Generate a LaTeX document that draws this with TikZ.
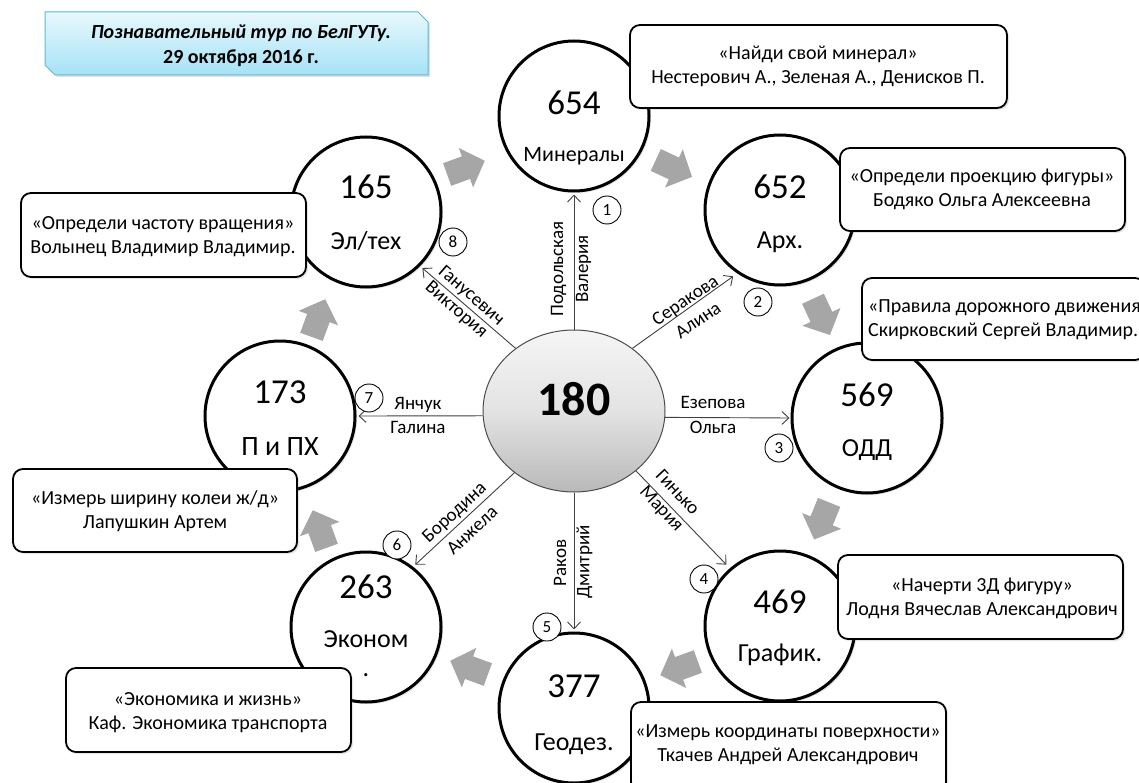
\documentclass[tikz,border=0pt]{standalone}
\usepackage{fontspec}
\setmainfont{Carlito}
\usetikzlibrary{shapes.geometric,arrows.meta,shadows}
\definecolor{garrowc}{HTML}{A6A6A6}
\definecolor{tborder}{HTML}{5DB9D8}
\definecolor{ttop}{HTML}{E8F8FD}
\definecolor{tbot}{HTML}{A6E2F6}
\definecolor{conncol}{HTML}{404040}
\newcommand\garrow[3]{\fill[garrowc,shift={(#1,#2)},rotate=#3] (-19,-12) -- (1,-12) -- (1,-21) -- (21,0) -- (1,21) -- (1,12) -- (-19,12) -- cycle;}
\begin{document}
\begin{tikzpicture}[x=1pt,y=-1pt,
  bigc/.style={circle,draw=black,line width=3pt,fill=white,minimum size=150pt,inner sep=0pt,
     drop shadow={shadow xshift=2pt,shadow yshift=-2pt,opacity=0.2}},
  num/.style={font=\fontsize{35}{40}\selectfont,inner sep=0pt,text depth=0pt},
  nm/.style={font=\fontsize{26}{30}\selectfont,inner sep=0pt,text depth=0pt},
  box/.style={draw=black,line width=1.8pt,rounded corners=10pt,fill=white,inner sep=0pt,
     drop shadow={shadow xshift=2pt,shadow yshift=-2pt,opacity=0.2}},
  btxt/.style={font=\fontsize{20}{24}\selectfont,align=center,inner sep=0pt},
  conn/.style={draw=conncol,line width=0.9pt,-{Straight Barb[length=7pt,width=13pt,line width=0.9pt]}},
  elab/.style={font=\fontsize{19}{22}\selectfont,inner sep=0pt,text depth=0pt},
  badge/.style={circle,draw=black,line width=0.9pt,fill=white,minimum size=28pt,inner sep=0pt,font=\fontsize{17}{20}\selectfont},
]
\useasboundingbox (0,0) rectangle (1139,783);
\fill[white] (0,0) rectangle (1139,783);

% gray flow arrows
\garrow{465}{168}{20}
\garrow{673}{168}{-25}
\garrow{821}{316}{-65}
\garrow{822}{520}{-112}
\garrow{680}{668}{-160}
\garrow{470}{668}{160}
\garrow{320}{530}{110}
\garrow{318}{319}{70}

% title
\path[draw=tborder,line width=1pt,top color=ttop,bottom color=tbot,
  drop shadow={shadow xshift=2pt,shadow yshift=-2pt,opacity=0.25}]
  (45,12) -- (418,12) -- (428,22) -- (428,75) -- (55,75) -- (45,65) -- cycle;
\node[font=\fontsize{20}{25}\selectfont\bfseries,align=center,inner sep=0pt] (title) at (241,45.5)
  {\textit{Познавательный тур по БелГУТу.}\\29 октября 2016 г.};

% center
\node[ellipse,draw=black!70,line width=1pt,minimum width=182pt,minimum height=162pt,
  top color=gray!8,bottom color=gray!55,middle color=gray!22] (c0) at (574,411) {};
\node[font=\fontsize{48}{54}\selectfont\bfseries,inner sep=0pt,text depth=0pt] (n0) at (574,399) {180};

% outer circles
\node[bigc] (c1) at (574,116) {};
\node[num] (c1n) at (574,103) {654};
\node[nm,font=\fontsize{22}{26}\selectfont] (c1t) at (574,154) {Минералы};

\node[bigc] (c2) at (780,210) {};
\node[num] (c2n) at (780,187) {652};
\node[nm] (c2t) at (780,240) {Арх.};

\node[bigc] (c3) at (867,418) {};
\node[num] (c3n) at (867,395) {569};
\node[nm] (c3t) at (867,448) {ОДД};

\node[bigc] (c4) at (780,626) {};
\node[num] (c4n) at (780,602) {469};
\node[nm] (c4t) at (780,653) {График.};

\node[bigc] (c5) at (574,708) {};
\node[num] (c5n) at (574,686) {377};
\node[nm] (c5t) at (574,742) {Геодез.};

\node[bigc] (c6) at (366,627) {};
\node[num] (c6n) at (366,587) {263};
\node[nm] (c6t) at (366,639) {Эконом};
\node[nm,anchor=base] (c6u) at (366,676) {.};

\node[bigc] (c7) at (280,416) {};
\node[num] (c7n) at (280,392) {173};
\node[nm,font=\fontsize{28}{32}\selectfont] (c7t) at (280,447) {П и ПХ};

\node[bigc] (c8) at (366,212) {};
\node[num] (c8n) at (366,187) {165};
\node[nm] (c8t) at (366,240) {Эл/тех};

% connectors
\draw[conn,shorten >=2pt] (c0.90) -- (c1.270);
\draw[conn,shorten >=5pt] (c0.47) -- (c2.236);
\draw[conn,shorten >=1pt] (c0.-4) -- (c3.180);
\draw[conn,shorten >=5pt] (c0.-44) -- (c4.131);
\draw[conn,shorten >=2pt] (c0.270) -- (c5.90);
\draw[conn,shorten >=3pt] (c0.226) -- (c6.52);
\draw[conn,shorten >=2pt] (c0.183) -- (c7.0);
\draw[conn,shorten >=3pt] (c0.133) -- (c8.-45);

% connector labels
\node[elab,rotate=90] (l1a) at (557,269) {Подольская};
\node[elab,rotate=90] (l1b) at (582,269) {Валерия};
\node[elab,rotate=34] (l2a) at (685,300) {Серакова};
\node[elab,rotate=34] (l2b) at (698,320) {Алина};
\node[elab] (l3a) at (713,402) {Езепова};
\node[elab] (l3b) at (713,427) {Ольга};
\node[elab,rotate=-47] (l4a) at (678,492) {Гинько};
\node[elab,rotate=-47] (l4b) at (662,508) {Мария};
\node[elab,rotate=90] (l5a) at (560,563) {Раков};
\node[elab,rotate=90] (l5b) at (583,562) {Дмитрий};
\node[elab,rotate=43] (l6a) at (454,512) {Бородина};
\node[elab,rotate=43] (l6b) at (472,530) {Анжела};
\node[elab] (l7a) at (418,403) {Янчук};
\node[elab] (l7b) at (418,427) {Галина};
\node[elab,rotate=-41] (l8a) at (472,295) {Ганусевич};
\node[elab,rotate=-41] (l8b) at (457,309) {Виктория};

% callout boxes
\node[box,minimum width=377pt,minimum height=83pt] (bA) at (818.5,66.5) {};
\node[btxt] (tA) at (818,66) {«Найди свой минерал»\\Нестерович А., Зеленая А., Денисков П.};
\node[box,minimum width=285pt,minimum height=83pt] (bB) at (982.5,189.5) {};
\node[btxt] (tB) at (982,189.5) {«Определи проекцию фигуры»\\Бодяко Ольга Алексеевна};
\node[box,minimum width=283pt,minimum height=82pt] (bC) at (1003.5,319) {};
\node[btxt,align=left,anchor=west] (tC) at (868,320) {«Правила дорожного движения»\\Скирковский Сергей Владимир.};
\node[box,minimum width=285pt,minimum height=84pt] (bD) at (980.5,597) {};
\node[btxt] (tD) at (982,598) {«Начерти 3Д фигуру»\\Лодня Вячеслав Александрович};
\node[box,minimum width=315pt,minimum height=90pt] (bE) at (788.5,747) {};
\node[btxt] (tE) at (788,744.5) {«Измерь координаты поверхности»\\Ткачев Андрей Александрович};
\node[box,minimum width=285pt,minimum height=84pt] (bF) at (208.5,710) {};
\node[btxt] (tF) at (208,712.5) {«Экономика и жизнь»\\Каф. Экономика транспорта};
\node[box,minimum width=284pt,minimum height=83pt] (bG) at (155,510.5) {};
\node[btxt] (tG) at (155,511.5) {«Измерь ширину колеи ж/д»\\Лапушкин Артем};
\node[box,minimum width=285pt,minimum height=84pt] (bH) at (163.5,235) {};
\node[btxt] (tH) at (163,236.5) {«Определи частоту вращения»\\Волынец Владимир Владимир.};

% number badges
\node[badge] (b1) at (607,210) {1};
\node[badge] (b2) at (758,302) {2};
\node[badge] (b3) at (779,448) {3};
\node[badge] (b4) at (704,579) {4};
\node[badge] (b5) at (547,627) {5};
\node[badge] (b6) at (397,545) {6};
\node[badge] (b7) at (369,398) {7};
\node[badge] (b8) at (453,242) {8};
\end{tikzpicture}
\end{document}
